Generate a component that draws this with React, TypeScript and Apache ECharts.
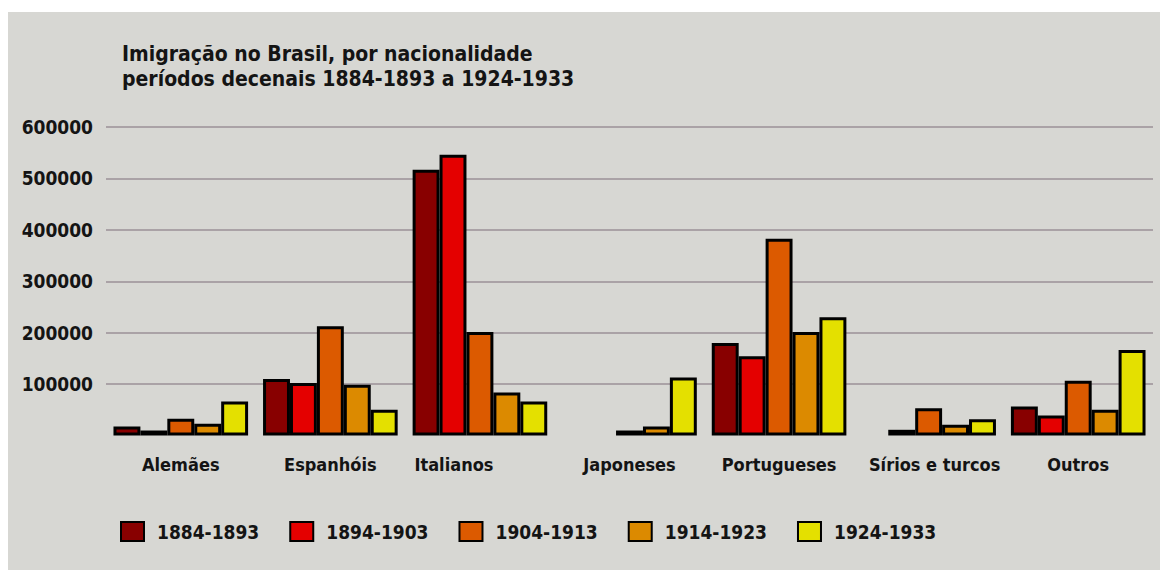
import React, { useEffect, useRef } from "react";
import * as echarts from "echarts";

const categories = ["Alemães", "Espanhóis", "Italianos", "Japoneses", "Portugueses", "Sírios e turcos", "Outros"];
const periods = ["1884-1893", "1894-1903", "1904-1913", "1914-1923", "1924-1933"];
const s1884 = [17500, 109700, 517000, null, 180000, null, 56500];
const s1894 = [9700, 102000, 545800, null, 154000, 11100, 39000];
const s1904 = [32500, 212500, 201400, 9700, 382600, 53200, 106600];
const s1914 = [22800, 98800, 83800, 17500, 201400, 20900, 50100];
const s1924 = [66300, 50100, 66300, 113000, 230000, 31800, 166300];
const yTicks = [0, 100000, 200000, 300000, 400000, 500000, 600000];
const titleLines = ["Imigração no Brasil, por nacionalidade", "períodos decenais 1884-1893 a 1924-1933"];
const colors = ["#880000", "#e40000", "#dc5a00", "#dc8a00", "#e4e000"];

const seriesValues = [s1884, s1894, s1904, s1914, s1924];

export default function App() {
  const ref = useRef<HTMLDivElement>(null);
  useEffect(() => {
    if (!ref.current) return;
    const chart = echarts.init(ref.current, null, { renderer: "svg" });
    const condensed = "'DejaVu Sans Condensed', 'DejaVu Sans', sans-serif";
    const titleStyle = {
      fontFamily: condensed,
      fontWeight: "bold",
      fontSize: 21,
      lineHeight: 21,
      color: "#141414",
    };
    chart.setOption({
      animation: false,
      backgroundColor: "#ffffff",
      graphic: [
        {
          type: "rect",
          z: -10,
          silent: true,
          shape: { x: 8, y: 12, width: 1152, height: 558 },
          style: { fill: "#d7d7d3" },
        },
      ],
      title: [
        { text: titleLines[0], left: 122, top: 43, padding: 0, textStyle: titleStyle },
        { text: titleLines[1], left: 122, top: 68, padding: 0, textStyle: { ...titleStyle, letterSpacing: 0.3 } },
      ],
      legend: {
        left: 120,
        top: 521,
        itemWidth: 23,
        itemHeight: 19,
        itemGap: 30,
        icon: "rect",
        padding: 0,
        textStyle: {
          fontFamily: condensed,
          fontWeight: "bold",
          fontSize: 19,
          color: "#141414",
          padding: [0, 0, 0, 8],
          width: 100,
        },
        data: periods,
      },
      grid: { left: 106, right: 13, top: 127, bottom: 138.5, containLabel: false },
      xAxis: {
        type: "category",
        data: categories.map((c) => {
          if (c === "Italianos") return { value: c, textStyle: { padding: [0, 52, 0, 0] } };
          if (c === "Sírios e turcos") return { value: c, textStyle: { padding: [0, 0, 0, 12] } };
          return c;
        }),
        axisLine: { show: false },
        axisTick: { show: false },
        axisLabel: {
          margin: 20,
          interval: 0,
          fontFamily: condensed,
          fontWeight: "bold",
          fontSize: 18,
          color: "#141414",
        },
      },
      yAxis: {
        type: "value",
        min: yTicks[0],
        max: yTicks[yTicks.length - 1],
        interval: yTicks[1] - yTicks[0],
        axisLine: { show: false },
        axisTick: { show: false },
        splitLine: { show: true, showMinLine: false, lineStyle: { color: "#aaa2a6", width: 2 } },
        axisLabel: {
          showMinLabel: false,
          margin: 13,
          fontFamily: condensed,
          fontWeight: "bold",
          fontSize: 19,
          color: "#141414",
          formatter: (v: number) => String(v),
        },
      },
      series: periods.map((p, i) => ({
        name: p,
        type: "bar",
        data: seriesValues[i],
        barGap: "0%",
        barCategoryGap: "10%",
        itemStyle: { color: colors[i], borderColor: "#000000", borderWidth: 3 },
      })),
    });
    return () => chart.dispose();
  }, []);
  return <div ref={ref} style={{ position: "fixed", left: 0, top: 0, width: 1166, height: 574 }} />;
}
